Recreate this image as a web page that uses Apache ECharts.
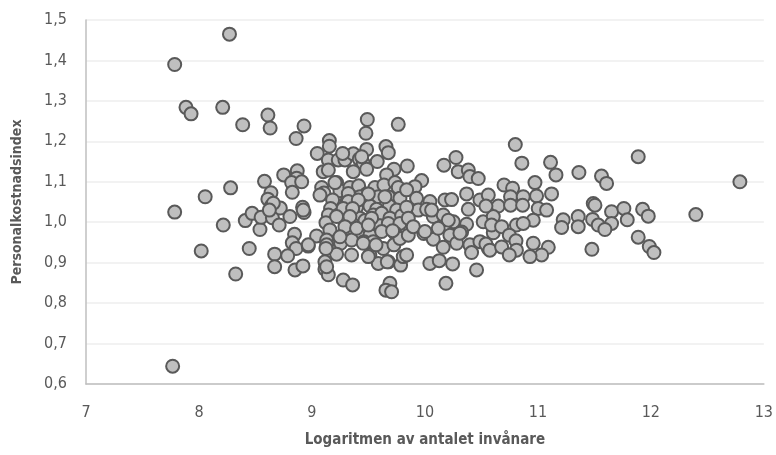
<!DOCTYPE html>
<html>
<head>
<meta charset="utf-8">
<script src="https://cdn.jsdelivr.net/npm/echarts@6/dist/echarts.min.js"></script>
<style>
html,body{margin:0;padding:0;background:#fff;}
#chart{width:776px;height:455px;}
</style>
</head>
<body>
<div id="chart"></div>
<script>
const xTitle = 'Logaritmen av antalet invånare';
const yTitle = 'Personalkostnadsindex';
const xTicks = [7, 8, 9, 10, 11, 12, 13];
const yTicks = ['0,6','0,7','0,8','0,9','1,0','1,1','1,2','1,3','1,4','1,5'];

// log population (x) and personnel cost index (y)
const xLeft = [7.785,7.785,7.767,7.885,7.93,8.21,8.27,8.387,8.055,8.28,8.02,8.215,8.325,8.41,8.47,8.445,8.54,8.55];
const yLeft = [1.39,1.025,0.644,1.284,1.268,1.284,1.465,1.241,1.063,1.085,0.929,0.993,0.872,1.004,1.022,0.935,0.982,1.012];

const xMidA = [8.61,8.63,8.58,8.637,8.61,8.64,8.65,8.72,8.71,8.67,8.67,8.75,8.93,8.86,8.87,8.865,8.82,8.826,8.805,8.917,8.93,8.846,8.826,8.86,8.967,8.785,8.85,8.92,8.658,8.623];
const yMidA = [1.265,1.233,1.101,1.073,1.057,1.04,1.011,1.035,0.993,0.921,0.89,1.117,1.238,1.207,1.127,1.109,1.098,1.074,1.014,1.037,1.024,0.97,0.949,0.935,0.941,0.917,0.882,0.892,1.047,1.03];

const xMidB = [9.49,9.478,9.764,9.154,9.154,9.047,9.145,9.233,9.292,9.366,9.419,9.484,9.454,9.578,9.655,9.676,9.726,9.661,9.10,9.145,9.366,9.484,9.272,
9.218,9.086,9.106,9.248,9.336,9.413,9.484,9.558,9.637,9.735,9.764,9.071,9.183,9.313,9.425,9.587,9.676,9.779,9.165,9.292,9.395,9.513,9.572,9.685,9.75,
9.145,9.233,9.313,9.366,9.425,9.543,9.617,9.69,9.794,9.124,9.292,9.366,9.469,9.602,9.676,9.779,9.159,9.336,9.41,9.513,9.617,9.735,9.041,9.13,9.13,
9.254,9.351,9.46,9.543,9.632,9.726,9.779,9.218,9.351,9.513,9.587,9.676,9.785,9.115,9.115,9.145,9.277,9.36,9.69,9.655,9.705,
9.44,9.204,9.322,9.499,9.646,9.322,9.41,9.277,9.36,9.218,9.336,9.528,9.292,9.395,9.499,9.714,9.248,9.454,9.567,8.968,9.124,9.499,9.667,9.13,8.909,8.923];
const yMidB = [1.254,1.220,1.242,1.202,1.188,1.170,1.154,1.154,1.154,1.169,1.156,1.18,1.146,1.15,1.187,1.172,1.131,1.117,1.125,1.129,1.125,1.131,1.170,
1.098,1.086,1.072,1.078,1.086,1.09,1.07,1.086,1.092,1.098,1.086,1.067,1.055,1.055,1.063,1.063,1.063,1.059,1.034,1.039,1.037,1.04,1.032,1.04,1.03,
1.018,1.018,1.022,1.022,1.01,1.018,1.022,1.01,1.016,0.999,1.001,0.993,1.004,0.991,0.997,0.997,0.981,0.982,0.973,0.968,0.977,0.973,0.966,0.956,0.944,
0.948,0.956,0.952,0.952,0.935,0.944,0.96,0.921,0.919,0.919,0.898,0.902,0.894,0.902,0.884,0.87,0.857,0.845,0.849,0.832,0.828,
1.162,1.098,1.071,1.07,1.063,1.051,1.055,1.034,1.034,1.014,1.014,1.01,0.989,0.985,0.993,0.979,0.964,0.948,0.944,0.944,0.935,0.915,0.902,0.89,1.1,1.03];

const xRightA = [10.275,10.168,10.295,10.384,10.398,10.472,9.844,9.971,9.912,9.838,9.926,10.044,10.177,10.236,10.369,10.384,10.487,10.561,10.649,
9.941,10.015,10.074,10.162,10.251,10.369,10.516,10.605,10.059,10.207,9.853,9.99,10.074,10.118,10.221,10.325,10.162,10.281,10.398,10.413,10.487,
10.561,10.605,10.044,10.127,10.245,10.457,10.186,9.808,9.838,9.853,9.897,9.838,10.0,10.54,10.59,10.31,10.54,10.575];
const yRightA = [1.16,1.141,1.125,1.129,1.113,1.108,1.139,1.103,1.088,1.08,1.059,1.051,1.055,1.056,1.07,1.032,1.055,1.067,1.04,
1.03,1.032,1.014,1.018,1.001,0.995,1.001,1.014,1.03,1.005,0.968,0.972,0.958,0.985,0.968,0.976,0.938,0.948,0.944,0.925,0.952,
0.935,0.974,0.898,0.905,0.897,0.882,0.849,0.915,1.037,1.01,0.989,0.919,0.977,1.04,0.993,0.973,0.946,0.931];

const xRightB = [10.80,10.858,11.112,11.16,11.363,10.974,11.121,10.7,10.776,10.758,10.87,10.988,10.758,10.865,11.003,11.077,10.959,10.679,10.81,10.87,
10.747,10.806,10.679,10.81,10.959,11.092,11.033,10.93,10.747,11.224,11.21,11.357,11.357,11.49,11.505,11.484,11.534,11.478];
const yRightB = [1.192,1.146,1.148,1.117,1.123,1.098,1.07,1.092,1.084,1.063,1.063,1.065,1.042,1.042,1.034,1.03,1.005,0.989,0.993,0.997,
0.968,0.954,0.939,0.931,0.948,0.938,0.919,0.915,0.919,1.006,0.987,1.014,0.989,1.046,1.042,1.007,0.993,0.933];

const xFar = [11.563,11.608,11.888,12.788,12.398,11.652,11.761,11.927,11.977,11.791,11.652,11.593,11.888,11.986,12.027];
const yFar = [1.114,1.096,1.162,1.10,1.019,1.026,1.034,1.032,1.015,1.006,0.997,0.982,0.963,0.94,0.925];

const xs = [].concat(xLeft, xMidA, xMidB, xRightA, xRightB, xFar);
const ys = [].concat(yLeft, yMidA, yMidB, yRightA, yRightB, yFar);
const points = xs.map((x, i) => [x, ys[i]]);

const FONT = '"DejaVu Sans Condensed", "Liberation Sans Narrow", "Roboto", sans-serif';
const chart = echarts.init(document.getElementById('chart'), null, {renderer: 'canvas'});
chart.setOption({
  animation: false,
  backgroundColor: '#ffffff',
  grid: {left: 86, right: 12, top: 20, bottom: 71},
  xAxis: {
    type: 'value', min: 7, max: 13, interval: 1,
    name: xTitle, nameLocation: 'middle', nameGap: 49,
    nameTextStyle: {fontFamily: FONT, fontSize: 15, fontWeight: 'bold', color: '#595959'},
    axisLine: {show: true, lineStyle: {color: '#BFBFBF', width: 1.5}},
    axisTick: {show: false},
    splitLine: {show: false},
    axisLabel: {fontFamily: FONT, fontSize: 16, color: '#595959', margin: 21,
      formatter: v => String(xTicks[Math.round(v - 7)])}
  },
  yAxis: {
    type: 'value', min: 0.6, max: 1.5, interval: 0.1,
    name: yTitle, nameLocation: 'middle', nameGap: 62, nameRotate: 90,
    nameTextStyle: {fontFamily: FONT, fontSize: 14, fontWeight: 'bold', color: '#595959'},
    axisLine: {show: true, lineStyle: {color: '#BFBFBF', width: 1.5}},
    axisTick: {show: false},
    splitLine: {show: true, lineStyle: {color: '#EEEEEE', width: 1.5}},
    axisLabel: {fontFamily: FONT, fontSize: 16, color: '#595959', margin: 19,
      formatter: v => yTicks[Math.round((v - 0.6) * 10)]}
  },
  series: [{
    type: 'scatter',
    data: points,
    symbol: 'circle',
    symbolSize: 13,
    itemStyle: {color: '#BFBFBF', borderColor: '#595959', borderWidth: 2, opacity: 1}
  }]
});
</script>
</body>
</html>
